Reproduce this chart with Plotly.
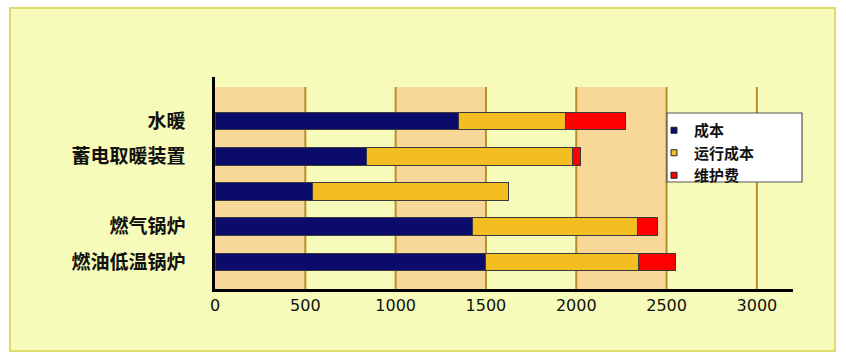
import plotly.graph_objects as go

# ---- data ----
categories = ["燃油低温锅炉", "燃气锅炉", "", "蓄电取暖装置", "水暖"]   # bottom -> top
cost = [1500, 1424, 540, 840, 1350]          # 成本
running = [843, 915, 1087, 1138, 592]        # 运行成本
maintenance = [207, 109, 0, 46, 332]         # 维护费
series_names = ["成本", "运行成本", "维护费"]
series_colors = ["#0B0B6B", "#F2BE22", "#FF0000"]
x_ticks = [0, 500, 1000, 1500, 2000, 2500, 3000]

ypos = list(range(len(categories)))

# layout geometry (pixels)
W, H = 846, 357
L, R, T, B = 215, 53, 77, 68
pw, ph = W - L - R, H - T - B

def px_x(p):
    return (p - L) / pw

def px_y(p):
    return (H - B - p) / ph

fig = go.Figure()

for name, vals, col in zip(series_names, [cost, running, maintenance], series_colors):
    fig.add_trace(go.Bar(
        y=ypos, x=vals, orientation="h", name=name, width=0.5,
        marker=dict(color=col, line=dict(color="#3a3a3a", width=1)),
        showlegend=False,
    ))
    # legend proxy with small square symbol
    fig.add_trace(go.Scatter(
        x=[None], y=[None], mode="markers", name=name,
        marker=dict(symbol="square", size=6, color=col, line=dict(color="#222", width=1)),
        showlegend=True,
    ))

shapes = []
# outer frame
shapes.append(dict(type="rect", xref="paper", yref="paper",
                   x0=px_x(10), x1=px_x(835), y0=px_y(351), y1=px_y(8),
                   fillcolor="#F6FBB9", line=dict(color="#DEDC6C", width=2), layer="below"))
band_top = px_y(87)
# alternating bands
for a, b in [(0, 500), (1000, 1500), (2000, 2500)]:
    shapes.append(dict(type="rect", xref="x", yref="paper", x0=a, x1=b, y0=0, y1=band_top,
                       fillcolor="#F8D898", line=dict(width=0), layer="below"))
# vertical gridlines
for v in x_ticks[1:]:
    shapes.append(dict(type="line", xref="x", yref="paper", x0=v, x1=v, y0=0, y1=band_top,
                       line=dict(color="#B88E2C", width=2), layer="below"))
# legend box
shapes.append(dict(type="rect", xref="paper", yref="paper",
                   x0=px_x(667), x1=px_x(802), y0=px_y(182), y1=px_y(113),
                   fillcolor="white", line=dict(color="#555555", width=1.2), layer="above"))

fig.update_layout(
    width=W, height=H,
    margin=dict(l=L, r=R, t=T, b=B),
    paper_bgcolor="white",
    plot_bgcolor="rgba(0,0,0,0)",
    barmode="stack",
    shapes=shapes,
    font=dict(family="Noto Sans CJK SC", color="#111111"),
    legend=dict(x=px_x(654), y=px_y(114), xanchor="left", yanchor="top",
                bgcolor="rgba(0,0,0,0)", borderwidth=0, traceorder="normal",
                font=dict(size=15, family="Noto Sans CJK SC", color="#111111", weight="bold"),
                tracegroupgap=0),
    xaxis=dict(range=[0, 3200], tickvals=x_ticks, ticktext=[str(v) for v in x_ticks],
               showgrid=False, zeroline=False, showline=True, linecolor="#000000", linewidth=2.5,
               ticks="", tickfont=dict(size=16, family="DejaVu Sans", color="#111111"),
               ticklabelstandoff=0),
    yaxis=dict(range=[-0.77, 5.25], tickvals=ypos, ticktext=categories,
               showgrid=False, zeroline=False, showline=True, linecolor="#000000", linewidth=2.5,
               ticks="", ticklabelstandoff=23,
               tickfont=dict(size=19, family="Noto Sans CJK SC", color="#111111", weight="bold")),
)

fig.write_html("out.html", config={"displayModeBar": False},
               post_script="document.body.style.margin='0';document.body.style.padding='0';")
